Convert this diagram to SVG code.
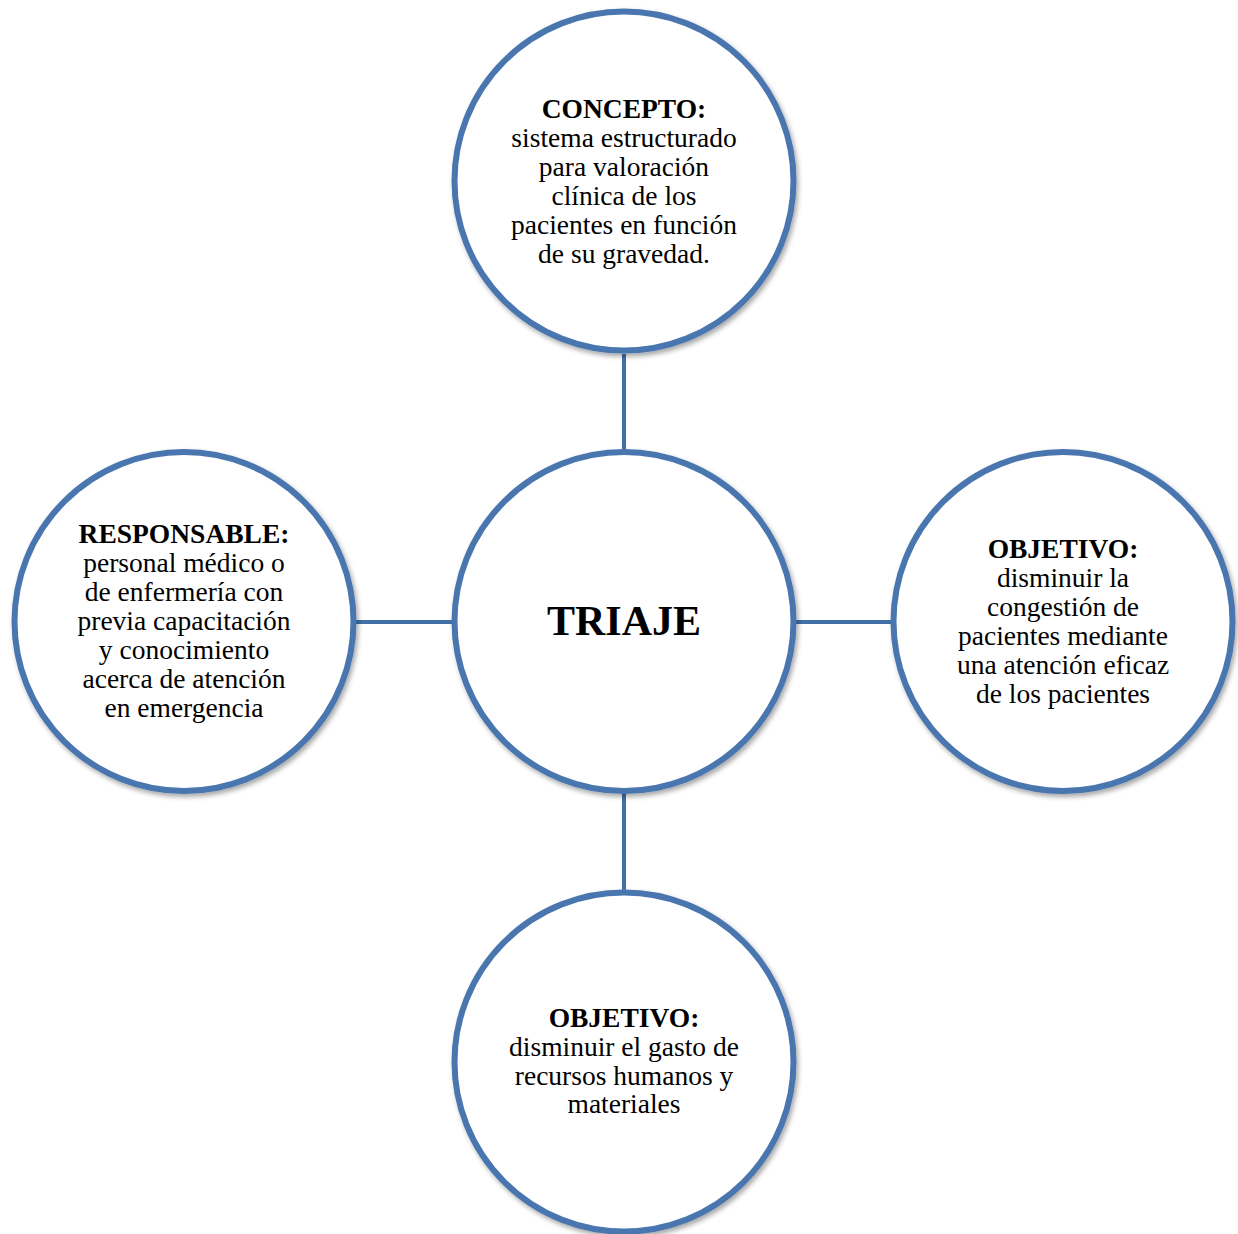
<svg xmlns="http://www.w3.org/2000/svg" width="1238" height="1234" viewBox="0 0 1238 1234">
  <defs>
    <filter id="shadow" x="-10%" y="-10%" width="125%" height="125%">
      <feDropShadow dx="2" dy="3" stdDeviation="2.5" flood-color="#000" flood-opacity="0.35"/>
    </filter>
  </defs>
  <style>
    .node circle { fill: #ffffff; stroke: #4a76ae; stroke-width: 6; filter: url(#shadow); }
    .link { stroke: #4170a8; stroke-width: 4; fill: none; }
    text { font-family: "Liberation Serif", "Times New Roman", serif; fill: #000; text-anchor: middle; }
    .body { font-size: 27.5px; }
    .head { font-size: 27.5px; font-weight: bold; }
    .title { font-size: 42px; font-weight: bold; }
  </style>
  <rect width="1238" height="1234" fill="#ffffff"/>

  <!-- connectors between the hub and the four satellites -->
  <g id="connectors">
    <line class="link" x1="624" y1="354" x2="624" y2="452"/>
    <line class="link" x1="624" y1="792" x2="624" y2="892"/>
    <line class="link" x1="355" y1="622" x2="453" y2="622"/>
    <line class="link" x1="795" y1="622" x2="893" y2="622"/>
  </g>

  <g id="concepto" class="node">
    <circle cx="624" cy="181" r="169.5"/>
    <text class="head" x="624" y="118">CONCEPTO:</text>
    <text class="body" x="624" y="147">sistema estructurado</text>
    <text class="body" x="624" y="176">para valoración</text>
    <text class="body" x="624" y="205">clínica de los</text>
    <text class="body" x="624" y="234">pacientes en función</text>
    <text class="body" x="624" y="263">de su gravedad.</text>
  </g>

  <g id="responsable" class="node">
    <circle cx="184" cy="621.5" r="169.5"/>
    <text class="head" x="184" y="543">RESPONSABLE:</text>
    <text class="body" x="184" y="572">personal médico o</text>
    <text class="body" x="184" y="601">de enfermería con</text>
    <text class="body" x="184" y="630">previa capacitación</text>
    <text class="body" x="184" y="659">y conocimiento</text>
    <text class="body" x="184" y="688">acerca de atención</text>
    <text class="body" x="184" y="717">en emergencia</text>
  </g>

  <g id="triaje" class="node">
    <circle cx="624" cy="621.5" r="169.5"/>
    <text class="title" x="624" y="635">TRIAJE</text>
  </g>

  <g id="objetivo-congestion" class="node">
    <circle cx="1063" cy="621.5" r="169.5"/>
    <text class="head" x="1063" y="558">OBJETIVO:</text>
    <text class="body" x="1063" y="587">disminuir la</text>
    <text class="body" x="1063" y="616">congestión de</text>
    <text class="body" x="1063" y="645">pacientes mediante</text>
    <text class="body" x="1063" y="674">una atención eficaz</text>
    <text class="body" x="1063" y="703">de los pacientes</text>
  </g>

  <g id="objetivo-recursos" class="node">
    <circle cx="624" cy="1062" r="169.5"/>
    <text class="head" x="624" y="1027">OBJETIVO:</text>
    <text class="body" x="624" y="1056">disminuir el gasto de</text>
    <text class="body" x="624" y="1085">recursos humanos y</text>
    <text class="body" x="624" y="1113">materiales</text>
  </g>
</svg>
